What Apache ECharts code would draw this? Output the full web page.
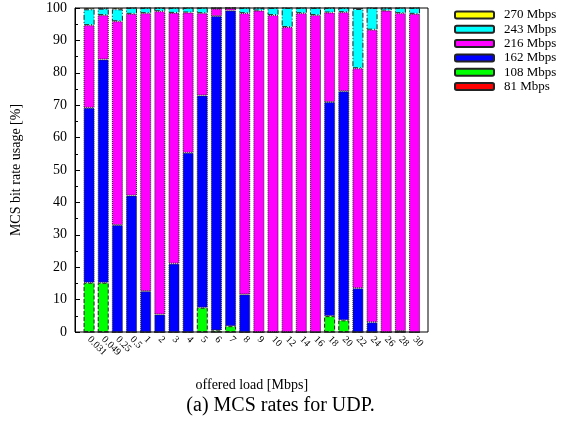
<!DOCTYPE html>
<html>
<head>
<meta charset="utf-8">
<script src="https://cdn.jsdelivr.net/npm/echarts@6/dist/echarts.min.js"></script>
<style>html,body{margin:0;padding:0;background:#fff;}#c{width:561px;height:430px;}</style>
</head>
<body>
<div id="c"></div>
<script>
const categories = ['0.031','0.049','0.25','0.5','1','2','3','4','5','6','7','8','9','10','12','14','16','18','20','22','24','26','28','30'];
const seriesNames = ['81 Mbps','108 Mbps','162 Mbps','216 Mbps','243 Mbps','270 Mbps'];
const r81  = [0,0,0,0,0,0,0,0,0,0,0,0,0,0,0,0,0,0,0,0,0,0,0,0];
const g108 = [15.2,15.2,0,0,0,0,0,0,7.5,0.5,1.8,0,0,0,0,0,0,4.9,3.6,0,0,0,0,0];
const b162 = [54.0,68.9,33.0,42.1,12.6,5.4,21.1,55.3,65.5,97.0,97.4,11.6,0,0,0,0,0,66.1,70.7,13.5,3.0,0,0.3,0];
const m216 = [25.5,13.7,62.9,56.1,85.8,93.6,77.4,43.3,25.4,2.3,0.8,86.8,99.2,97.8,94.1,98.4,97.8,27.6,24.4,67.9,90.3,99.2,98.1,98.2];
const c243 = [4.9,2.0,3.7,1.8,1.6,1.0,1.5,1.4,1.6,0.2,0,1.6,0.8,2.2,5.9,1.6,2.2,1.4,1.3,18.3,6.7,0.8,1.6,1.8];
const y270 = [0.4,0.2,0.4,0,0,0,0,0,0,0,0,0,0,0,0,0,0,0,0,0.3,0,0,0,0];
const yTicks = [0,10,20,30,40,50,60,70,80,90,100];

const values = [r81,g108,b162,m216,c243,y270];
const colors = ['#ff0000','#00ff00','#0000ff','#ff00ff','#00ffff','#ffff00'];
const borderTypes = ['solid',[4,2],[1,1],[1,1],[5,2,1,2],[3,1,1,1,1,1]];
const font = 'Liberation Serif';

const series = values.map((arr,k)=>({
  name: seriesNames[k],
  type: 'bar',
  stack: 'total',
  xAxisIndex: 1, yAxisIndex: 1,
  barWidth: 11,
  data: arr,
  itemStyle: {color: colors[k], borderColor: '#222', borderWidth: 1, borderType: borderTypes[k]},
  emphasis: {disabled: true},
  animation: false
}));

const chart = echarts.init(document.getElementById('c'), null, {renderer:'canvas'});
chart.setOption({
  animation: false,
  grid: [
    {left: 75, right: 133, top: 8, bottom: 98, show: true, borderColor: '#000', borderWidth: 1, backgroundColor: 'transparent'},
    {left: 82, right: 139.4, top: 8, bottom: 98}
  ],
  legend: {
    orient: 'vertical', left: 454, top: 8, padding: 0,
    data: seriesNames.slice().reverse(),
    itemWidth: 39, itemHeight: 7, itemGap: 0.3,
    textStyle: {fontFamily: font, fontSize: 13, lineHeight: 14, color: '#000', padding: [0,0,0,5]},
    selectedMode: false
  },
  xAxis: [{
    gridIndex: 0, type: 'value', min: 0, max: 1, show: false
  }, {
    gridIndex: 1, type: 'category', data: categories,
    name: 'offered load [Mbps]', nameLocation: 'middle', nameGap: 46,
    nameTextStyle: {fontFamily: font, fontSize: 14, color: '#000'},
    axisLine: {show: false},
    axisTick: {show: false},
    splitLine: {show: false},
    axisLabel: {rotate: -45, fontFamily: font, fontSize: 10, color: '#000', margin: 6, interval: 0}
  }],
  yAxis: [{
    gridIndex: 0, type: 'value', min: 0, max: 100, interval: 10,
    name: 'MCS bit rate usage [%]', nameLocation: 'middle', nameGap: 52,
    nameTextStyle: {fontFamily: font, fontSize: 14, color: '#000'},
    axisLine: {show: true, lineStyle: {color: '#000'}},
    axisTick: {show: true, inside: true, length: 5, lineStyle: {color: '#000'}},
    minorTick: {show: true, splitNumber: 2, length: 3, lineStyle: {color: '#000'}},
    splitLine: {show: false},
    axisLabel: {fontFamily: font, fontSize: 14, color: '#000', margin: 8,
      formatter: v => yTicks.includes(v) ? String(v) : ''}
  }, {
    gridIndex: 1, type: 'value', min: 0, max: 100, show: false
  }],
  graphic: [{
    type: 'text', left: 'center', top: 396,
    style: {text: '(a) MCS rates for UDP.', font: '20px "Liberation Serif"', fill: '#000'}
  }],
  series: series
});
</script>
</body>
</html>
